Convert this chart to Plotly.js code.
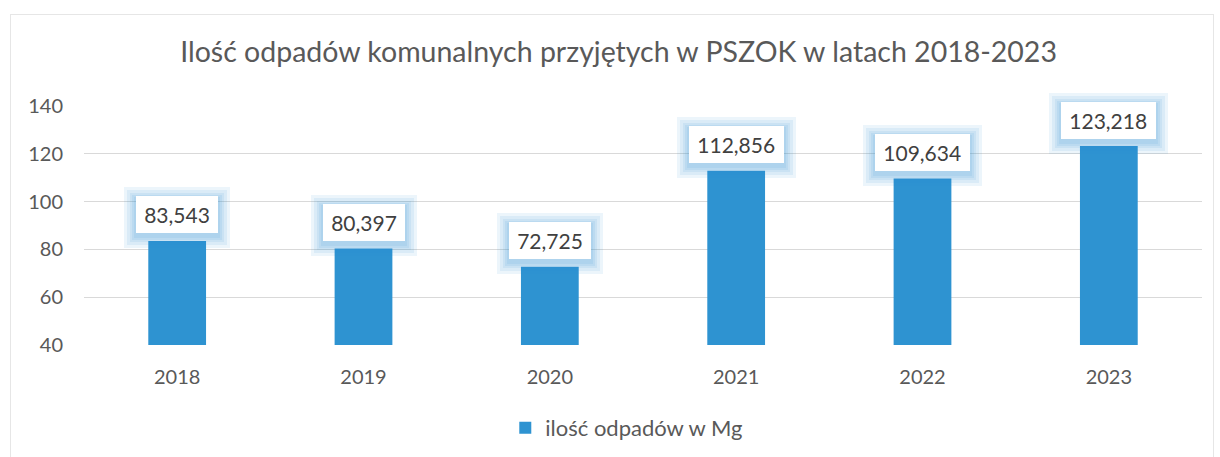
<!DOCTYPE html>
<html>
<head>
<meta charset="utf-8">
<script src="https://cdn.plot.ly/plotly-3.0.1.min.js"></script>
<style>
html,body{margin:0;padding:0;background:#fff;}
#wrap{position:relative;width:1220px;height:457px;}
#frame{position:absolute;left:10px;top:14px;width:1204px;height:460px;border:1px solid #e6e6e6;box-sizing:border-box;pointer-events:none;}
#chart{position:absolute;left:0;top:0;width:1220px;height:457px;}
</style>
</head>
<body>
<div id="wrap"><div id="chart"></div><div id="frame"></div></div>
<script>
const years = [2018, 2019, 2020, 2021, 2022, 2023];
const values = [83.543, 80.397, 72.725, 112.856, 109.634, 123.218];
const valueLabels = ['83,543', '80,397', '72,725', '112,856', '109,634', '123,218'];
const seriesName = 'ilość odpadów w Mg';
const chartTitle = 'Ilość odpadów komunalnych przyjętych w PSZOK w latach 2018-2023';

const FONT = 'Lato, "Open Sans", sans-serif';
const GREY = '#595959';
const BLUE = '#2e93d1';

const annotations = [];
const glowPads = [17, 14, 11, 9, 7];
years.forEach((yr, i) => {
  const w = 12.5 * valueLabels[i].length - 3;
  glowPads.forEach(p => {
    annotations.push({
      x: yr, y: values[i], xref: 'x', yref: 'y',
      text: '&nbsp;', showarrow: false, width: w, height: 27,
      font: {family: FONT, size: 21, color: 'rgba(0,0,0,0)'},
      bgcolor: 'rgba(46,147,209,0.09)', borderpad: p, borderwidth: 0,
      xanchor: 'center', yanchor: 'middle', yshift: 23
    });
  });
  annotations.push({
    x: yr, y: values[i], xref: 'x', yref: 'y',
    text: valueLabels[i], showarrow: false, width: w, height: 27,
    font: {family: FONT, size: 21, color: '#404040'},
    bgcolor: '#ffffff', borderpad: 5, borderwidth: 0,
    xanchor: 'center', yanchor: 'middle', yshift: 26
  });
});

const data = [{
  type: 'bar',
  x: years,
  y: values,
  name: seriesName,
  marker: {color: BLUE},
  width: 0.31
}];

const layout = {
  width: 1220, height: 457,
  margin: {l: 84, r: 18, t: 106, b: 112, autoexpand: false},
  paper_bgcolor: '#ffffff', plot_bgcolor: '#ffffff',
  font: {family: FONT, color: GREY},
  title: {
    text: chartTitle,
    font: {family: FONT, size: 28.5, color: GREY},
    x: 0.507, xref: 'container', xanchor: 'center',
    y: 0.886, yref: 'container', yanchor: 'middle'
  },
  xaxis: {
    type: 'linear',
    range: [years[0] - 0.5, years[years.length - 1] + 0.5],
    tickvals: years, ticktext: years.map(String),
    showgrid: false, zeroline: false, showline: false,
    ticks: '', ticklabelstandoff: 18,
    tickfont: {family: FONT, size: 20, color: GREY}
  },
  yaxis: {
    type: 'linear',
    range: [40, 140], dtick: 20, tick0: 40,
    showgrid: true, gridcolor: '#d9d9d9', gridwidth: 1,
    zeroline: false, showline: false, ticks: '',
    ticklabelstandoff: 20,
    tickfont: {family: FONT, size: 20, color: GREY}
  },
  showlegend: true,
  legend: {
    orientation: 'h', x: 0.4855, xanchor: 'center',
    y: -0.347, yanchor: 'middle',
    font: {family: FONT, size: 22, color: GREY}
  },
  annotations: annotations
};

Plotly.newPlot('chart', data, layout, {displayModeBar: false});
</script>
</body>
</html>
